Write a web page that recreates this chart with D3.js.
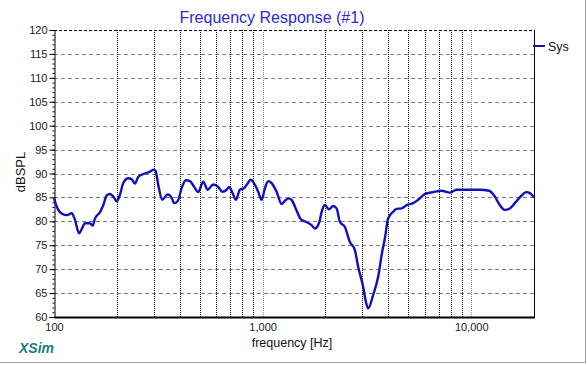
<!DOCTYPE html>
<html>
<head>
<meta charset="utf-8">
<script src="https://cdn.jsdelivr.net/npm/d3@7"></script>
<style>
  body { margin: 0; background: #fff; }
  svg { display: block; font-family: Arial, "Liberation Sans", sans-serif; }
</style>
</head>
<body>
<div id="graph"></div>
<script>
// data
var freqHz = [100, 104.5, 109.2, 115.4, 121.6, 126.1, 131.8, 136.2, 140.8, 148.7,
  153.3, 157.2, 166.1, 172.3, 178.9, 185.5, 192.4, 199.7, 207.2, 214.8,
  227, 235.7, 244.4, 253.5, 272.9, 288.4, 301.4, 307.1, 316.1, 330.4,
  350.5, 363.5, 377, 391.4, 409.1, 427.6, 448.4, 470.1, 491.4, 519.3,
  545.1, 580, 612.9, 640.5, 672.4, 691.8, 718.2, 745, 778.6, 813.7,
  843.9, 876.2, 908.7, 952.6, 989, 1025.6, 1063.7, 1104.4, 1167.1, 1233.3,
  1279, 1336.7, 1377.2, 1444.1, 1526, 1612.6, 1717.3, 1781, 1861.5, 1930.5,
  1988.7, 2078.6, 2179.6, 2262.9, 2346.8, 2480, 2620.6, 2769.1, 2871.7, 3034.4,
  3115.8, 3206.7, 3388.4, 3580.5, 3742.4, 3855, 3998, 4225, 4386, 4634,
  4898, 5267, 5566, 5995, 6569, 7207, 7898, 8504, 9495, 10997,
  12182, 12980, 13710, 14490, 15310, 16180, 17100, 18410, 19090, 20000];

var splDb = [84.8, 82.5, 81.6, 81.3, 81.7, 80.3, 77.5, 78.5, 79.6, 79.6,
  79.1, 80.6, 81.9, 83.4, 85.4, 85.7, 85.2, 84.2, 85.6, 88.0,
  89.0, 88.8, 87.9, 89.3, 90.0, 90.4, 90.8, 90.5, 87.6, 84.5,
  85.6, 85.2, 83.8, 84.2, 86.9, 88.6, 88.4, 87.2, 86.1, 88.3,
  86.6, 87.7, 87.2, 86.2, 86.6, 87.2, 85.9, 84.5, 86.6, 86.9,
  87.8, 88.7, 88.0, 86.2, 84.5, 86.9, 88.4, 88.0, 86.2, 83.6,
  84.3, 84.8, 84.5, 82.6, 80.4, 79.9, 79.2, 78.5, 79.6, 82.4,
  83.4, 82.5, 83.2, 82.7, 79.9, 78.8, 75.7, 74.0, 70.5, 66.3,
  63.5, 61.8, 64.6, 68.4, 73.6, 76.4, 80.6, 82.0, 82.6, 82.7,
  83.4, 83.8, 84.5, 85.7, 86.1, 86.4, 86.0, 86.6, 86.6, 86.6,
  86.4, 85.2, 83.4, 82.4, 82.7, 83.8, 85.0, 86.1, 85.9, 85.0];

var yTicks = [60, 65, 70, 75, 80, 85, 90, 95, 100, 105, 110, 115, 120];
var xLabelTicks = [100, 1000, 10000];
var xGridMinor = [200, 300, 400, 500, 600, 700, 800, 900,
  2000, 3000, 4000, 5000, 6000, 7000, 8000, 9000];
var xGridDecade = [1000, 10000];
var seriesName = "Sys";

var W = 587, H = 365;
var plotL = 54, plotR = 534, plotT = 30, plotB = 317;
var font = "Arial, 'Liberation Sans', sans-serif";

var svg = d3.select("#graph").append("svg")
  .attr("width", W).attr("height", H);

var x = d3.scaleLog().domain([100, 20000]).range([plotL, plotR]);
var y = d3.scaleLinear().domain([60, 120]).range([plotB, plotT]);

// outer frame (bottom/right edge)
svg.append("line").attr("x1", 0).attr("x2", 586).attr("y1", 362.5).attr("y2", 362.5)
  .attr("stroke", "#a0a0a0");
svg.append("line").attr("x1", 585.5).attr("x2", 585.5).attr("y1", 0).attr("y2", 363)
  .attr("stroke", "#a0a0a0");

// horizontal grid
svg.append("g").selectAll("line")
  .data(yTicks.filter(function(d) { return d > 60 && d < 120; }))
  .enter().append("line")
  .attr("x1", plotL).attr("x2", plotR)
  .attr("y1", function(d) { return Math.round(y(d)) + 0.5; })
  .attr("y2", function(d) { return Math.round(y(d)) + 0.5; })
  .attr("stroke", "#808080")
  .attr("stroke-dasharray", "4,3");

// vertical grid
svg.append("g").selectAll("line")
  .data(xGridMinor)
  .enter().append("line")
  .attr("x1", function(d) { return Math.round(x(d)) + 0.5; })
  .attr("x2", function(d) { return Math.round(x(d)) + 0.5; })
  .attr("y1", plotT).attr("y2", plotB)
  .attr("stroke", "#000")
  .attr("stroke-dasharray", "1,1");

svg.append("g").selectAll("line")
  .data(xGridDecade)
  .enter().append("line")
  .attr("x1", function(d) { return Math.round(x(d)) + 0.5; })
  .attr("x2", function(d) { return Math.round(x(d)) + 0.5; })
  .attr("y1", plotT).attr("y2", plotB)
  .attr("stroke", "#909090")
  .attr("stroke-dasharray", "1,1");

// plot border
svg.append("line").attr("x1", plotL).attr("x2", plotR).attr("y1", plotT + 0.5).attr("y2", plotT + 0.5)
  .attr("stroke", "#000").attr("stroke-dasharray", "3,2");
svg.append("line").attr("x1", plotR + 0.5).attr("x2", plotR + 0.5).attr("y1", plotT).attr("y2", plotB + 1)
  .attr("stroke", "#000");

// y axis
var yAxis = d3.axisLeft(y).tickValues(yTicks).tickSize(5).tickPadding(2);
var gy = svg.append("g").attr("transform", "translate(" + (plotL + 0.5) + ",0)").call(yAxis);
gy.selectAll("text").attr("font-size", 11).attr("font-family", font).attr("fill", "#222");
gy.select(".domain").attr("stroke", "#000");

var yMinor = d3.axisLeft(y).tickValues(d3.range(60, 121, 1)).tickSize(2).tickFormat("");
svg.append("g").attr("transform", "translate(" + (plotL + 0.5) + ",0)").call(yMinor)
  .select(".domain").remove();

// x axis
var xAxis = d3.axisBottom(x).tickValues(xLabelTicks).tickSize(0).tickPadding(6)
  .tickFormat(d3.format(","));
var gx = svg.append("g").attr("transform", "translate(0," + plotB + ")").call(xAxis);
gx.selectAll("text").attr("font-size", 11).attr("font-family", font).attr("fill", "#222");
gx.select(".domain").attr("stroke", "#000").attr("stroke-width", 2);

// curve
var line = d3.line()
  .x(function(d, i) { return x(freqHz[i]); })
  .y(function(d) { return y(d); })
  .curve(d3.curveMonotoneX);

svg.append("path")
  .datum(splDb)
  .attr("d", line)
  .attr("fill", "none")
  .attr("stroke", "#1010c0")
  .attr("stroke-width", 2.4)
  .attr("stroke-linejoin", "round");

// title and labels
svg.append("text").attr("x", 272).attr("y", 23).attr("text-anchor", "middle")
  .attr("font-size", 16).attr("fill", "#2a2ad8").text("Frequency Response (#1)");

svg.append("text").attr("x", 292).attr("y", 347).attr("text-anchor", "middle")
  .attr("font-size", 12.5).attr("fill", "#111").text("frequency [Hz]");

svg.append("text").attr("transform", "translate(25,172) rotate(-90)")
  .attr("text-anchor", "middle").attr("font-size", 13).attr("fill", "#111").text("dBSPL");

svg.append("text").attr("x", 19).attr("y", 353)
  .attr("font-size", 14).attr("font-weight", "bold").attr("font-style", "italic")
  .attr("fill", "#1a8080").text("XSim");

// legend
svg.append("line").attr("x1", 533).attr("x2", 545).attr("y1", 46).attr("y2", 46)
  .attr("stroke", "#1515a0").attr("stroke-width", 2);
svg.append("text").attr("x", 548).attr("y", 51).attr("font-size", 12.5).attr("fill", "#111")
  .text(seriesName);
</script>
</body>
</html>
